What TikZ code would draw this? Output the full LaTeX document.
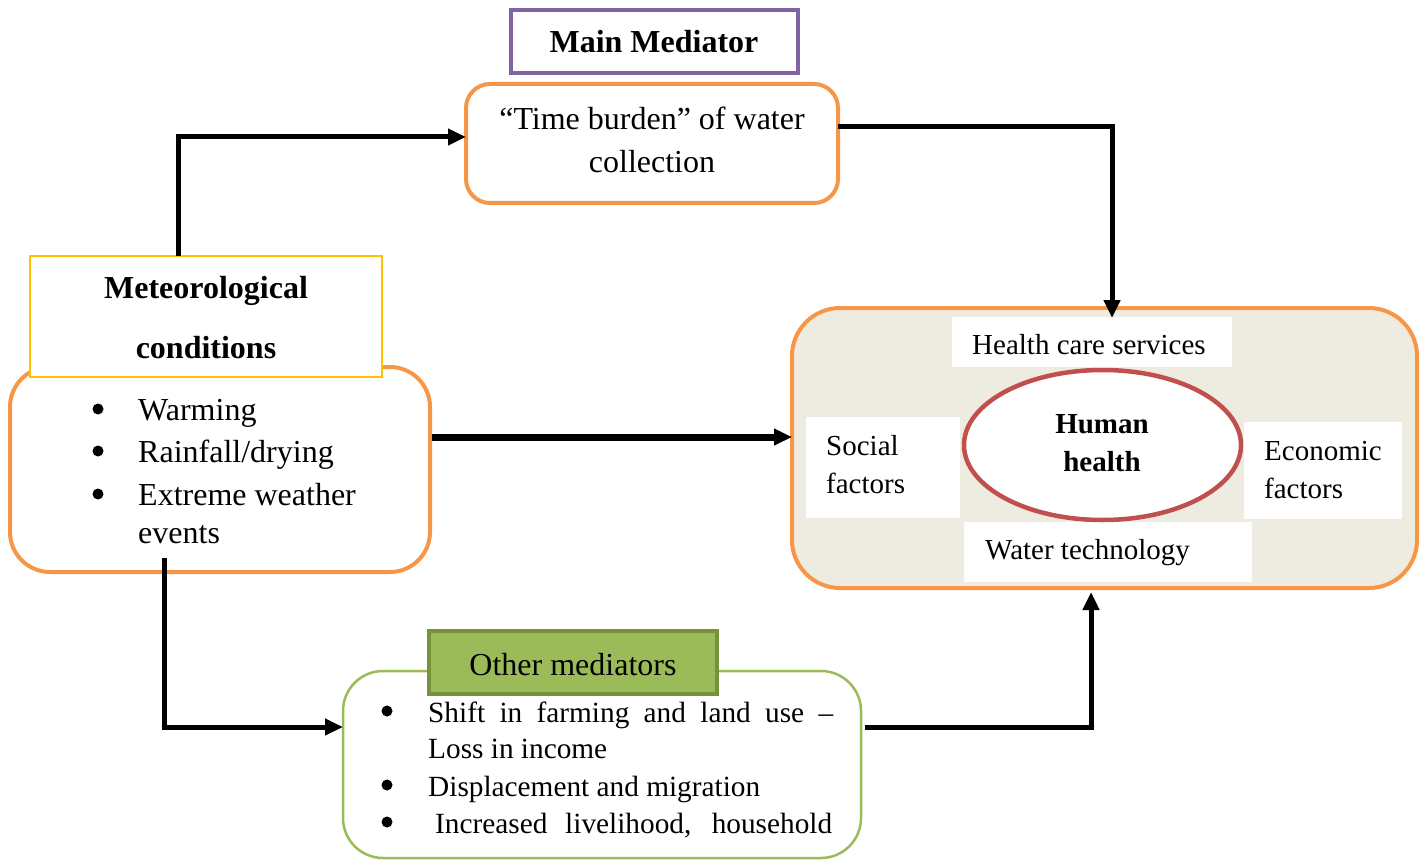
\documentclass[tikz,border=0pt]{standalone}
\usepackage{fontspec}
\setmainfont{Liberation Serif}
\usetikzlibrary{arrows.meta,shapes.geometric}
\definecolor{orng}{HTML}{F79646}
\definecolor{purp}{HTML}{8064A2}
\definecolor{gold}{HTML}{FFC000}
\definecolor{leaf}{HTML}{9BBB59}
\definecolor{leafdark}{HTML}{76923C}
\definecolor{brick}{HTML}{C0504D}
\definecolor{paper}{HTML}{EEECE1}
\begin{document}
\begin{tikzpicture}[x=1pt,y=-1pt,
  frame/.style={rectangle, inner sep=0pt, outer sep=0pt},
  txt/.style={inner sep=0pt, anchor=base, font=\fontsize{32}{38}\selectfont},
  btxt/.style={inner sep=0pt, anchor=base, font=\fontsize{32}{38}\selectfont\bfseries},
  htxt/.style={inner sep=0pt, anchor=base west, font=\fontsize{29}{35}\selectfont},
  ltxt/.style={inner sep=0pt, anchor=base west, font=\fontsize{29.3}{35}\selectfont},
  dot/.style={circle, fill=black, inner sep=0pt, minimum size=11pt},
  flow/.style={line width=5pt, -{Triangle[length=18pt,width=16pt]}},
]
\useasboundingbox (0,0) rectangle (1424,861);

% ---- boxes ----
\node[frame, draw=purp, line width=4pt, minimum width=287pt, minimum height=63pt] (mm) at (654.5,41.5) {};
\node[frame, draw=orng, line width=4pt, rounded corners=24pt, minimum width=372pt, minimum height=119pt] (tb) at (652,143.5) {};

\node[frame, draw=orng, line width=4pt, rounded corners=40pt, minimum width=420pt, minimum height=205pt] (mb) at (220,469.5) {};
\node[frame, draw=gold, fill=white, line width=2.5pt, minimum width=352pt, minimum height=121pt] (mt) at (206,316.5) {};

\node[frame, draw=orng, fill=paper, line width=4pt, rounded corners=48pt, minimum width=625pt, minimum height=280pt] (hh) at (1104.5,448) {};
\node[frame, fill=white, minimum width=280pt, minimum height=50pt] (hcs) at (1092,342) {};
\node[frame, fill=white, minimum width=154pt, minimum height=101pt] (soc) at (883,467.5) {};
\node[frame, fill=white, minimum width=158pt, minimum height=97pt] (eco) at (1323,470.5) {};
\node[frame, fill=white, minimum width=288pt, minimum height=60pt] (wat) at (1108,552) {};
\node[ellipse, draw=brick, fill=white, line width=4.5pt, inner sep=0pt, minimum width=277pt, minimum height=150pt] (hum) at (1102.5,445) {};

\node[frame, draw=leaf, line width=2.5pt, rounded corners=40pt, minimum width=518pt, minimum height=187pt] (ob) at (602,764.5) {};
\node[frame, draw=leafdark, fill=leaf, line width=4pt, minimum width=288pt, minimum height=63pt] (ot) at (573,662.5) {};

% ---- texts ----
\node[btxt] (mmt) at (654,53) {Main Mediator};
\node[txt] (tb1) at (652,130) {“Time burden” of water};
\node[txt] (tb2) at (652,173) {collection};

\node[btxt] (mt1) at (206,298) {Meteorological};
\node[btxt] (mt2) at (206,358) {conditions};

\node[dot] (b1) at (98,409) {};
\node[dot] (b2) at (98,451) {};
\node[dot] (b3) at (98,494) {};
\node[txt, anchor=base west] (m1) at (138,420) {Warming};
\node[txt, anchor=base west] (m2) at (138,462) {Rainfall/drying};
\node[txt, anchor=base west] (m3) at (138,505) {Extreme weather};
\node[txt, anchor=base west] (m4) at (138,543) {events};

\node[htxt] (hcst) at (972,354) {Health care services};
\node[htxt] (soc1) at (826,455) {Social};
\node[htxt] (soc2) at (826,493) {factors};
\node[htxt] (eco1) at (1264,460) {Economic};
\node[htxt] (eco2) at (1264,498) {factors};
\node[htxt] (watt) at (985,559) {Water technology};
\node[inner sep=0pt, anchor=base, font=\fontsize{29}{35}\selectfont\bfseries] (hu1) at (1102,433) {Human};
\node[inner sep=0pt, anchor=base, font=\fontsize{29}{35}\selectfont\bfseries] (hu2) at (1102,471) {health};

\node[txt] (ott) at (573,675) {Other mediators};
\node[dot] (c1) at (387,711) {};
\node[dot] (c2) at (387,785) {};
\node[dot] (c3) at (387,822) {};
\node[ltxt] (o1) at (428,722) {\makebox[405pt][s]{Shift in farming and land use –}};
\node[ltxt] (o2) at (428,758) {Loss in income};
\node[ltxt] (o3) at (428,796) {Displacement and migration};
\node[ltxt] (o4) at (435,833) {\makebox[397pt][s]{Increased livelihood, household}};

% ---- connectors ----
\draw[flow] ([xshift=-28pt]mt.north) |- ([yshift=6.5pt]tb.west);
\draw[flow] ([yshift=16.5pt]tb.east) -| ([xshift=7.5pt,yshift=-10pt]hh.north);
\draw[flow, line width=7pt] ([xshift=2pt,yshift=32.5pt]mb.east) -- ([yshift=11pt]hh.west);
\draw[flow] ([xshift=-56pt,yshift=14pt]mb.south) |- ([yshift=37.5pt]ob.west);
\draw[flow] ([xshift=4pt,yshift=37.5pt]ob.east) -| ([xshift=-13.5pt,yshift=-4pt]hh.south);
\end{tikzpicture}
\end{document}
